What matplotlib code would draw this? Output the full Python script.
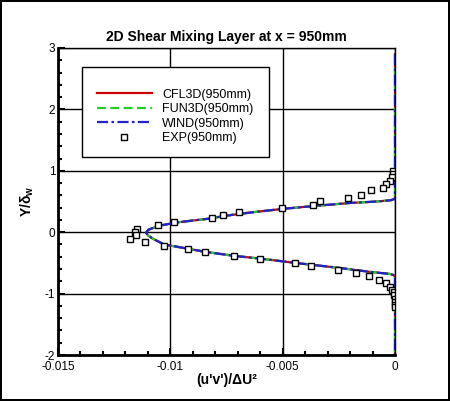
import matplotlib
matplotlib.use("Agg")
import matplotlib.pyplot as plt
from matplotlib.patches import Rectangle
from matplotlib.ticker import MultipleLocator

plt.rcParams['font.family'] = ['Liberation Sans', 'DejaVu Sans']
plt.rcParams['mathtext.fontset'] = 'custom'
plt.rcParams['mathtext.rm'] = 'Liberation Sans'
plt.rcParams['mathtext.bf'] = 'Liberation Sans:bold'

# CFD profiles (the three codes overlap in the picture)
y_cfd = [2.9, 0.56, 0.54, 0.52, 0.50, 0.475, 0.43, 0.38, 0.32, 0.27, 0.22,
         0.16, 0.105, 0.04, -0.01, -0.05, -0.11, -0.20, -0.27, -0.32, -0.385,
         -0.43, -0.50, -0.58, -0.645, -0.68, -0.70, -0.72, -2.0]
x_cfl3d = [0.0, 0.0, -0.00002, -0.0002, -0.0008, -0.00205, -0.0035, -0.005,
           -0.00645, -0.0075, -0.0083, -0.0097, -0.0105, -0.01098, -0.01108,
           -0.0110, -0.01076, -0.01027, -0.0092, -0.00845, -0.00716, -0.006,
           -0.00444, -0.00252, -0.00114, -0.00022, -0.00005, 0.0, 0.0]
x_fun3d = list(x_cfl3d)
x_wind = list(x_cfl3d)

# experiment
x_exp = [-0.00008, -0.00008, -0.00012, -0.00021, -0.00039, -0.00052, -0.00106,
         -0.0015, -0.00208, -0.00333, -0.00364, -0.00502, -0.00693, -0.00764,
         -0.00813, -0.00983, -0.01054, -0.01147, -0.01156, -0.01152, -0.01178,
         -0.01112, -0.01027, -0.0092, -0.00845, -0.00716, -0.0060, -0.00444,
         -0.00372, -0.00252, -0.00174, -0.00116, -0.00071, -0.0004, -0.00022,
         -0.00012, -0.00005, -0.00003, -0.00002, -0.00002, -0.00002, -0.00002]
y_exp = [1.00, 0.955, 0.90, 0.835, 0.785, 0.72, 0.68, 0.61, 0.56, 0.51, 0.45,
         0.395, 0.33, 0.285, 0.23, 0.17, 0.12, 0.05, 0.01, -0.05, -0.11, -0.16,
         -0.225, -0.275, -0.32, -0.39, -0.44, -0.50, -0.55, -0.61, -0.66, -0.715,
         -0.775, -0.83, -0.89, -0.94, -0.98, -1.03, -1.08, -1.13, -1.18, -1.22]

fig = plt.figure(figsize=(4.5, 4.01), dpi=100)
fig.patch.set_edgecolor('black')
fig.patch.set_linewidth(1.5)
ax = fig.add_axes([58 / 450, 46 / 401, 337 / 450, 307 / 401])

ax.plot(x_cfl3d, y_cfd, '-', color='#cc0000', lw=1.6, label='CFL3D(950mm)')
ax.plot(x_fun3d, y_cfd, '--', color='#22cc22', lw=1.6, dashes=(4, 2), label='FUN3D(950mm)')
ax.plot(x_wind, y_cfd, '-.', color='#2222cc', lw=1.6, dashes=(5, 1.5, 1.2, 1.5), label='WIND(950mm)')
ax.plot(x_exp, y_exp, 's', ms=5, mfc='white', mec='black', mew=1.0,
        linestyle='none', label='EXP(950mm)')

ax.set_xlim(-0.015, 0)
ax.set_ylim(-2, 3)
ax.xaxis.set_major_locator(MultipleLocator(0.005))
ax.xaxis.set_minor_locator(MultipleLocator(0.001))
ax.yaxis.set_major_locator(MultipleLocator(1))
ax.yaxis.set_minor_locator(MultipleLocator(0.2))
ax.set_xticks([-0.015, -0.01, -0.005, 0])
ax.set_xticklabels(['-0.015', '-0.01', '-0.005', '0'])
ax.set_yticks([-2, -1, 0, 1, 2, 3])
ax.set_yticklabels(['-2', '-1', '0', '1', '2', '3'])

ax.grid(True, which='major', color='black', lw=1.0)
ax.set_axisbelow(True)
for side in ['top', 'right']:
    ax.spines[side].set_linewidth(1.0)
for side in ['left', 'bottom']:
    ax.spines[side].set_linewidth(2.0)
ax.tick_params(which='both', direction='in', top=False, right=False,
               labelsize=8.5, width=1.5)
ax.tick_params(axis='x', pad=4)
ax.tick_params(axis='y', pad=2)
ax.tick_params(which='major', length=5)
ax.tick_params(which='minor', length=3)

ax.set_title('2D Shear Mixing Layer at x = 950mm', fontsize=10,
             fontweight='bold', pad=5)
ax.set_xlabel("(u'v')/ΔU²", fontsize=10, fontweight='bold', labelpad=0)
ax.set_ylabel(r"Y/δ$_\mathbf{w}$", fontsize=10, fontweight='bold', labelpad=6)

# legend box drawn separately so the entries can sit lower inside it
ax.add_patch(Rectangle((0.0712, 0.645), 0.555, 0.293, transform=ax.transAxes,
                       facecolor='white', edgecolor='black', lw=1.0, zorder=4))
leg = ax.legend(loc='upper left', bbox_to_anchor=(0.1157, 0.867),
                fontsize=9, frameon=False, handlelength=4.4,
                handletextpad=0.8, borderpad=0, labelspacing=0.2,
                borderaxespad=0)
leg.set_zorder(5)

fig.savefig('out.png', dpi=100)
